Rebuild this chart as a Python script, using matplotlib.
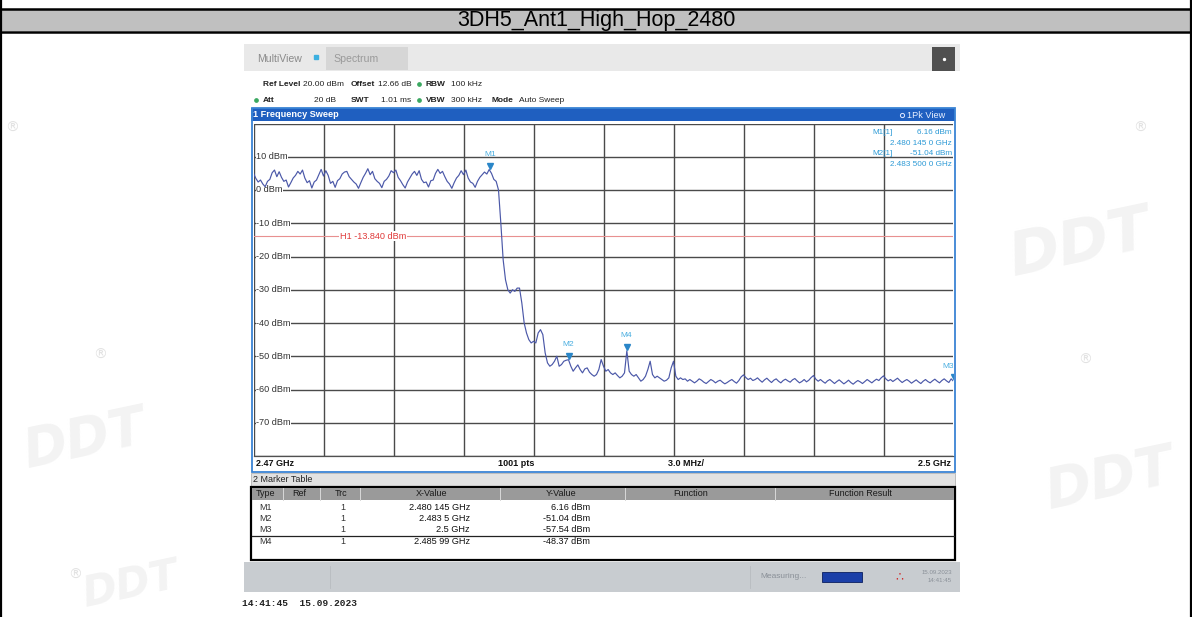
import numpy as np
import matplotlib
matplotlib.use("Agg")
import matplotlib.pyplot as plt
from matplotlib.patches import Rectangle
from matplotlib.lines import Line2D
import matplotlib.transforms as mtransforms

# ---------------- data ----------------
title = "3DH5_Ant1_High_Hop_2480"
freq_start_ghz = 2.47
freq_stop_ghz = 2.50
ref_level_dbm = 20
range_db = 100
h1_level_dbm = -13.840

y_grid_labels = ["10 dBm", "0 dBm", "-10 dBm", "-20 dBm", "-30 dBm",
                 "-40 dBm", "-50 dBm", "-60 dBm", "-70 dBm"]
y_grid_values = [10, 0, -10, -20, -30, -40, -50, -60, -70]

# trace level (dBm) sampled every 0.1 MHz, one row per MHz (2470 ... 2499) + end point
trace_2470 = [5.0, 3.5, 2.4, 3.0, 1.8, 1.0, 2.6, 3.2, 5.2, 6.0]
trace_2471 = [4.0, 5.5, 3.8, 2.6, 3.0, 0.9, 2.2, 3.6, 4.4, 5.6]
trace_2472 = [4.8, 6.0, 3.6, 2.2, 2.8, 0.6, 2.4, 3.0, 4.6, 6.2]
trace_2473 = [4.2, 5.8, 4.4, 2.0, 2.6, 0.8, 2.8, 3.4, 4.8, 5.4]
trace_2474 = [5.6, 4.0, 3.2, 2.4, 1.8, 0.5, 2.2, 3.8, 5.0, 6.4]
trace_2475 = [4.6, 5.6, 3.4, 2.6, 2.0, 0.7, 2.6, 3.2, 4.2, 5.8]
trace_2476 = [5.2, 6.0, 3.8, 2.8, 1.6, 0.6, 2.4, 3.6, 4.8, 5.6]
trace_2477 = [4.4, 5.8, 3.2, 2.2, 2.4, 0.9, 2.8, 3.0, 5.0, 6.2]
trace_2478 = [5.0, 5.6, 4.0, 2.6, 1.8, 0.5, 2.2, 3.6, 4.4, 5.8]
trace_2479 = [4.6, 6.0, 3.6, 2.4, 2.0, 0.8, 2.6, 3.8, 4.6, 5.4]
trace_2480 = [4.8, 6.16, 5.0, 3.2, 2.6, 0.0, -10.0, -21.0, -27.0, -30.0]
trace_2481 = [-31.0, -30.0, -30.5, -29.5, -29.5, -34.0, -40.0, -43.0, -45.0, -46.0]
trace_2482 = [-45.5, -46.0, -43.0, -42.0, -43.5, -49.0, -52.0, -53.0, -52.5, -51.5]
trace_2483 = [-50.0, -53.0, -52.5, -51.5, -51.2, -51.04, -53.0, -54.5, -53.5, -52.6]
trace_2484 = [-54.0, -55.0, -53.8, -53.5, -54.8, -55.5, -56.0, -55.5, -54.0, -51.0]
trace_2485 = [-53.0, -54.5, -54.0, -55.0, -55.5, -55.0, -55.8, -56.5, -56.0, -55.0]
trace_2486 = [-48.37, -54.5, -55.5, -56.0, -55.5, -56.5, -57.5, -57.0, -56.0, -54.0]
trace_2487 = [-51.5, -55.5, -56.5, -56.0, -56.5, -57.0, -57.5, -57.2, -56.5, -53.5]
trace_2488 = [-51.5, -56.0, -57.0, -56.5, -57.0, -56.8, -57.5, -57.0, -57.5, -58.0]
trace_2489 = [-57.5, -56.8, -57.2, -57.8, -58.2, -57.6, -57.0, -57.4, -58.0, -57.5]
trace_2490 = [-57.2, -57.8, -58.3, -57.9, -57.4, -57.0, -57.6, -58.1, -57.3, -56.2]
trace_2491 = [-55.6, -56.4, -57.0, -56.6, -57.3, -57.0, -56.5, -57.2, -57.8, -57.1]
trace_2492 = [-56.6, -57.3, -57.9, -57.2, -56.8, -57.5, -58.0, -57.3, -56.9, -57.4]
trace_2493 = [-57.8, -57.1, -56.7, -57.4, -58.0, -57.6, -57.0, -57.7, -57.2, -56.4]
trace_2494 = [-55.8, -56.9, -57.5, -57.0, -57.6, -58.1, -57.4, -57.0, -57.6, -58.2]
trace_2495 = [-57.6, -57.1, -57.7, -58.3, -57.8, -57.2, -57.9, -58.4, -57.8, -57.3]
trace_2496 = [-57.7, -58.2, -57.6, -57.0, -57.5, -58.0, -57.4, -56.9, -57.3, -56.5]
trace_2497 = [-55.9, -56.8, -57.4, -57.0, -57.6, -57.1, -56.6, -57.3, -57.9, -57.4]
trace_2498 = [-57.0, -57.5, -58.1, -57.6, -57.1, -57.7, -58.2, -57.5, -57.0, -57.6]
trace_2499 = [-58.0, -57.4, -56.9, -57.5, -58.0, -57.3, -56.8, -57.4, -57.9, -56.8]
trace_2500 = [-57.54]

marker_names = ["M1", "M2", "M3", "M4"]
marker_freq_ghz = [2.480145, 2.4835, 2.5, 2.48599]
marker_level_dbm = [6.16, -51.04, -57.54, -48.37]
marker_x_text = ["2.480 145 GHz", "2.483 5 GHz", "2.5 GHz", "2.485 99 GHz"]
marker_y_text = ["6.16 dBm", "-51.04 dBm", "-57.54 dBm", "-48.37 dBm"]
table_columns = ["Type", "Ref", "Trc", "X-Value", "Y-Value", "Function", "Function Result"]

trace_rows = [trace_2470, trace_2471, trace_2472, trace_2473, trace_2474, trace_2475,
              trace_2476, trace_2477, trace_2478, trace_2479, trace_2480, trace_2481,
              trace_2482, trace_2483, trace_2484, trace_2485, trace_2486, trace_2487,
              trace_2488, trace_2489, trace_2490, trace_2491, trace_2492, trace_2493,
              trace_2494, trace_2495, trace_2496, trace_2497, trace_2498, trace_2499,
              trace_2500]
trace_dbm = np.concatenate([np.asarray(r, float) for r in trace_rows])
trace_freq = np.linspace(freq_start_ghz, freq_stop_ghz, len(trace_dbm))

# ---------------- figure helpers ----------------
W, H = 1192, 617
fig = plt.figure(figsize=(W / 100, H / 100), dpi=100)
fig.patch.set_facecolor("white")

NARROW = ["Liberation Sans Narrow", "Liberation Sans", "DejaVu Sans"]


def fx(x):
    return x / W


def fy(y):
    return 1 - y / H


def rect(x0, y0, x1, y1, fc, ec="none", lw=0.0, z=1):
    fig.add_artist(Rectangle((fx(x0), fy(y1)), (x1 - x0) / W, (y1 - y0) / H,
                             transform=fig.transFigure, facecolor=fc,
                             edgecolor=ec, linewidth=lw, zorder=z))


def line(x0, y0, x1, y1, color, lw, z=2):
    fig.add_artist(Line2D([fx(x0), fx(x1)], [fy(y0), fy(y1)],
                          transform=fig.transFigure, color=color, lw=lw, zorder=z))


def txt(x, y, s, size, color="#222222", ha="left", va="center", weight="normal",
        family=None, z=6, **kw):
    fig.text(fx(x), fy(y), s, fontsize=size, color=color, ha=ha, va=va,
             fontweight=weight, family=family or NARROW, zorder=z, **kw)


# ---------------- watermark logos (very faint) ----------------
wm = "#f3f3f3"
for (x, y, s) in [(1080, 245, 44), (1110, 480, 40), (85, 440, 38), (130, 585, 30)]:
    txt(x, y, "DDT", s, color=wm, ha="center", weight="bold", family=["DejaVu Sans"],
        z=0, rotation=12, style="italic")
for (x, y) in [(12, 128), (1140, 128), (100, 355), (1085, 360), (75, 575)]:
    txt(x, y, "®", 10, color="#e2e2e2", ha="center", family=["DejaVu Sans"], z=0)

# ---------------- outer border and title bar ----------------
line(1, 0, 1, H, "black", 1.6, z=8)
line(1190.5, 0, 1190.5, H, "black", 1.6, z=8)
rect(0, 9, W, 31, "#c0c0c0", z=3)
line(0, 9, W, 9, "black", 1.8, z=8)
line(0, 31.5, W, 31.5, "black", 1.8, z=8)
txt(W / 2, 20.5, title, 15.5, color="black", ha="center", family=NARROW, z=9)

# ---------------- instrument screenshot chrome ----------------
rect(244, 44, 960, 71, "#e9e9e9", z=2)
rect(326, 47, 408, 70, "#d6d6d6", z=3)
txt(257, 59, "MultiView", 7.6, color="#8a8a8a")
fig.add_artist(Line2D([fx(316)], [fy(57)], transform=fig.transFigure, marker="s", ms=2.8,
                      color="#3cb0e0", zorder=6))
txt(333, 59, "Spectrum", 7.6, color="#9a9a9a")
rect(932, 47, 955, 71, "#505050", z=3)
fig.add_artist(Line2D([fx(943.5)], [fy(59)], transform=fig.transFigure, marker="o", ms=1.4,
                      color="white", zorder=6))

dot = "#3aa860"
fs_info = 6.0
txt(263, 84, "Ref Level", fs_info, weight="bold")
txt(303, 84, "20.00 dBm", fs_info)
txt(351, 84, "Offset", fs_info, weight="bold")
txt(378, 84, "12.66 dB", fs_info)
txt(426, 84, "RBW", fs_info, weight="bold")
txt(451, 84, "100 kHz", fs_info)
txt(263, 100, "Att", fs_info, weight="bold")
txt(314, 100, "20 dB", fs_info)
txt(351, 100, "SWT", fs_info, weight="bold")
txt(381, 100, "1.01 ms", fs_info)
txt(426, 100, "VBW", fs_info, weight="bold")
txt(451, 100, "300 kHz", fs_info)
txt(491, 100, "Mode", fs_info, weight="bold")
txt(519, 100, "Auto Sweep", fs_info)
for (x, y) in [(419, 84), (256, 100), (419, 100)]:
    fig.add_artist(Line2D([fx(x)], [fy(y)], transform=fig.transFigure, marker="o", ms=2.4,
                          color=dot, zorder=6))

# blue title bar of the sweep window
rect(251, 108, 955, 121, "#1f5fc0", z=3)
txt(253, 114.5, "1 Frequency Sweep", 6.6, color="white", weight="bold")
txt(907, 115, "1Pk View", 6.6, color="#e8f0ff")
fig.add_artist(Line2D([fx(902)], [fy(115)], transform=fig.transFigure, marker="o", ms=3,
                      mfc="none", mec="#e0e8ff", mew=0.7, zorder=6))

# ---------------- spectrum axes ----------------
ax_left, ax_right, ax_top, ax_bot = 253.5, 953.5, 123.5, 456.0
ax = fig.add_axes([fx(ax_left), fy(ax_bot), (ax_right - ax_left) / W, (ax_bot - ax_top) / H])
ax.set_zorder(4)
ax.set_facecolor("white")
ax.set_xlim(freq_start_ghz, freq_stop_ghz)
ax.set_ylim(ref_level_dbm - range_db, ref_level_dbm)
ax.set_xticks(np.linspace(freq_start_ghz, freq_stop_ghz, 11))
ax.set_yticks(np.arange(ref_level_dbm - range_db, ref_level_dbm + 1, 10))
ax.grid(True, color="#4a4a4a", lw=1.0)
ax.tick_params(length=0, labelbottom=False, labelleft=False)
for s in ["top", "left", "right"]:
    ax.spines[s].set_visible(False)
ax.spines["bottom"].set_color("#505050")
ax.spines["bottom"].set_linewidth(0.9)

for lab, val in zip(y_grid_labels, y_grid_values):
    ax.text(0.004, val, lab, transform=ax.get_yaxis_transform(), fontsize=6.6,
            color="#333333", ha="left", va="center", family=NARROW, zorder=3,
            bbox=dict(boxstyle="square,pad=0.05", fc="white", ec="none"))

ax.axhline(h1_level_dbm, color="#e89090", lw=0.8, zorder=2.5)
ax.text(freq_start_ghz + 0.0037, h1_level_dbm, f"H1 {h1_level_dbm:.3f} dBm", fontsize=6.6,
        color="#e03a3a", ha="left", va="center", family=NARROW, zorder=3,
        bbox=dict(boxstyle="square,pad=0.05", fc="white", ec="none"))

ax.plot(trace_freq, trace_dbm, color="#4b58a8", lw=0.85, zorder=5)

mk_col = "#2a86c8"
tri_off = mtransforms.offset_copy(ax.transData, fig=fig, x=0, y=4, units="dots")
lab_off = mtransforms.offset_copy(ax.transData, fig=fig, x=0, y=15, units="dots")
for name, f, v in zip(marker_names, marker_freq_ghz, marker_level_dbm):
    ax.plot([f], [v], marker="v", ms=3.8, color=mk_col, transform=tri_off, zorder=6,
            clip_on=True)
    ha = "right" if f >= freq_stop_ghz else "center"
    ax.text(f, v, name, transform=lab_off, fontsize=6, color="#4aaee0", ha=ha,
            va="center", family=NARROW, zorder=6, clip_on=True)

# marker info (top right)
info_col = "#2d9ad6"
fs_mi = 5.9
txt(883, 133, "M1[1]", fs_mi, color=info_col, ha="center", z=7)
txt(952, 133, marker_y_text[0], fs_mi, color=info_col, ha="right", z=7)
txt(952, 143.5, "2.480 145 0 GHz", fs_mi, color=info_col, ha="right", z=7)
txt(883, 154, "M2[1]", fs_mi, color=info_col, ha="center", z=7)
txt(952, 154, marker_y_text[1], fs_mi, color=info_col, ha="right", z=7)
txt(952, 164.5, "2.483 500 0 GHz", fs_mi, color=info_col, ha="right", z=7)

# panel frame & frequency row
rect(251.5, 108, 955, 471.5, "none", ec="#3a84d4", lw=1.3, z=7)
txt(256, 463.5, "2.47 GHz", 6.5, weight="bold", color="#111111")
txt(498, 463.5, "1001 pts", 6.5, weight="bold", color="#111111")
txt(668, 463.5, "3.0 MHz/", 6.5, weight="bold", color="#111111")
txt(951, 463.5, "2.5 GHz", 6.5, weight="bold", color="#111111", ha="right")

# ---------------- marker table ----------------
rect(251, 473, 955, 486, "#e2e2e2", ec="#b5b5b5", lw=0.6, z=3)
txt(253, 479.5, "2 Marker Table", 6.5, color="#222222")
rect(251, 487, 955, 560, "white", ec="black", lw=1.6, z=3)
rect(252, 488, 954, 500, "#9a9a9a", z=4)
for x in [283, 320, 360, 500, 625, 775]:
    line(x, 488, x, 500, "#d8d8d8", 0.7, z=5)
col_x = [265, 299, 341, 432, 561, 691, 860]
for cx, c in zip(col_x, table_columns):
    txt(cx, 494, c, 6.5, color="#1a1a1a", ha="center")
row_y = [507, 518.5, 530, 541.5]
line(252, 536, 954, 536, "#222222", 0.9, z=5)
for ry, name, xs, ys in zip(row_y, marker_names, marker_x_text, marker_y_text):
    txt(265, ry, name, 6.4, color="#333333", ha="center")
    txt(343, ry, "1", 6.4, color="#333333", ha="center")
    txt(470, ry, xs, 6.6, color="#111111", ha="right")
    txt(590, ry, ys, 6.6, color="#111111", ha="right")

# ---------------- status bar ----------------
rect(244, 562, 960, 592, "#c8ccd0", z=2)
line(330, 566, 330, 588, "#b8bcc0", 0.6, z=3)
line(750, 566, 750, 588, "#b8bcc0", 0.6, z=3)
txt(760, 577, "Measuring...", 6, color="#8a9098")
rect(822, 572, 862, 582, "#1b3fa8", ec="#0b1f60", lw=0.6, z=4)
txt(899, 577, "\u2234", 9, color="#d03030", ha="center", family=["DejaVu Sans"])
txt(952, 572, "15.09.2023", 4.4, color="#8a9098", ha="right")
txt(952, 581, "14:41:45", 4.4, color="#8a9098", ha="right")

txt(242, 603, "14:41:45  15.09.2023", 6.8, color="#222222",
    family=["Liberation Mono", "DejaVu Sans Mono"], weight="bold")

fig.savefig("out.png", dpi=100, facecolor="white")
